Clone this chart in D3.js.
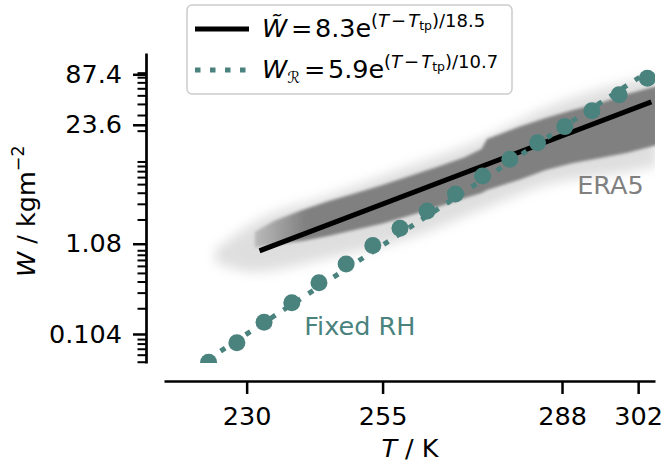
<!DOCTYPE html>
<html>
<head>
<meta charset="utf-8">
<script src="https://cdn.jsdelivr.net/npm/d3@7"></script>
<style>
body { margin: 0; background: #fff; }
text { font-family: "DejaVu Sans", sans-serif; }
</style>
</head>
<body>
<div id="chart"></div>
<script>
var width = 666, height = 464

var coreT = [231.5, 235, 240, 245, 250, 255, 260, 265, 270, 273.2, 274.2, 280, 285, 290, 295, 300, 305.5]
var coreHigh = [1.46, 1.95, 2.55, 3.25, 4.0, 4.95, 6.26, 7.90, 10.1, 12.6, 16.3, 22.3, 28.1, 34.6, 41.5, 52.4, 64.5]
var coreLow = [0.98, 1.05, 1.15, 1.32, 1.55, 1.82, 2.25, 2.78, 3.52, 4.03, 4.35, 5.64, 7.31, 8.76, 9.97, 11.4, 14.0]
var haloT = [224.2, 231.5, 245.3, 260, 273, 285, 300, 305.5]
var haloHigh = [0.92, 1.90, 3.82, 8.11, 15.9, 36.5, 71.6, 83.6]
var haloLow = [0.67, 0.52, 0.75, 1.25, 2.59, 4.95, 6.94, 8.11]

// exponential fit to ERA5 (end points)
var fitT = [232.8, 304.0]
var fitW = [0.92, 41.8]

// fixed relative humidity points and their exponential fit
var fixedT = [223.0, 228.2, 233.2, 238.3, 243.3, 248.3, 253.2, 258.2, 263.2, 268.4, 273.4, 278.4, 283.5, 288.5, 293.5, 298.5, 303.7]
var fixedW = [0.050, 0.083, 0.141, 0.234, 0.393, 0.639, 1.03, 1.61, 2.52, 3.92, 6.25, 9.64, 14.8, 22.5, 34.0, 51.5, 78.8]
var fixedFitT = [222.9, 303.7]
var fixedFitW = [0.054, 92.5]

var xTicks = [230, 255, 288, 302]
var yTicks = [0.104, 1.08, 23.6, 87.4]

var teal = "#4a827e", grey = "#808080", fs = 25.5

var svg = d3.select("#chart").append("svg")
  .attr("width", width)
  .attr("height", height)

var x = d3.scaleLinear().domain([214.8, 305.1]).range([164, 655])
var y = d3.scaleLog().domain([0.049, 151.8]).range([363, 53])

var defs = svg.append("defs")
defs.append("clipPath").attr("id", "plotClip")
  .append("rect").attr("x", 164).attr("y", 53).attr("width", 491).attr("height", 310)
defs.append("filter").attr("id", "blurCore")
  .attr("x", "-10%").attr("y", "-10%").attr("width", "120%").attr("height", "120%")
  .append("feGaussianBlur").attr("stdDeviation", 1.8)
defs.append("filter").attr("id", "blurHalo")
  .attr("x", "-20%").attr("y", "-20%").attr("width", "140%").attr("height", "140%")
  .append("feGaussianBlur").attr("stdDeviation", 6)
var grad = defs.append("linearGradient").attr("id", "coreFade")
  .attr("gradientUnits", "userSpaceOnUse")
  .attr("x1", x(231)).attr("x2", x(241)).attr("y1", 0).attr("y2", 0)
grad.append("stop").attr("offset", 0).attr("stop-color", grey).attr("stop-opacity", 0.35)
grad.append("stop").attr("offset", 1).attr("stop-color", grey).attr("stop-opacity", 1)

var plot = svg.append("g").attr("clip-path", "url(#plotClip)")

var band = d3.area()
  .x(function (d) { return x(d.t) })
  .y0(function (d) { return y(d.lo) })
  .y1(function (d) { return y(d.hi) })

var halo = haloT.map(function (t, i) { return { t: t, lo: haloLow[i], hi: haloHigh[i] } })
var core = coreT.map(function (t, i) { return { t: t, lo: coreLow[i], hi: coreHigh[i] } })

plot.append("path")
  .attr("d", band.curve(d3.curveMonotoneX)(halo))
  .attr("fill", grey)
  .attr("opacity", 0.25)
  .attr("filter", "url(#blurHalo)")

plot.append("path")
  .attr("d", band.curve(d3.curveLinear)(core))
  .attr("fill", "url(#coreFade)")
  .attr("filter", "url(#blurCore)")

var line = d3.line()
  .x(function (d) { return x(d[0]) })
  .y(function (d) { return y(d[1]) })

plot.append("path")
  .attr("d", line(d3.zip(fitT, fitW)))
  .attr("stroke", "black")
  .attr("stroke-width", 5)
  .attr("stroke-linecap", "square")
  .attr("fill", "none")

plot.append("path")
  .attr("d", line(d3.zip(fixedFitT, fixedFitW)))
  .attr("stroke", teal)
  .attr("stroke-width", 5)
  .attr("stroke-dasharray", "5.5 9.5")
  .attr("fill", "none")

plot.selectAll("circle")
  .data(d3.zip(fixedT, fixedW))
  .enter()
  .append("circle")
  .attr("cx", function (d) { return x(d[0]) })
  .attr("cy", function (d) { return y(d[1]) })
  .attr("r", 8.5)
  .attr("fill", teal)

// annotations
svg.append("text").text("ERA5")
  .attr("x", x(290.8)).attr("y", y(3.92))
  .attr("fill", grey).style("font-size", fs + "px")
svg.append("text").text("Fixed RH")
  .attr("x", x(240.6)).attr("y", y(0.101))
  .attr("fill", teal).style("font-size", fs + "px")

// axes (spines pushed outward)
var xAxis = svg.append("g")
  .attr("transform", "translate(0,381)")
  .call(d3.axisBottom(x).tickValues(xTicks).tickFormat(function (d) { return d })
    .tickSize(13).tickSizeOuter(0).tickPadding(13))
var yAxis = svg.append("g")
  .attr("transform", "translate(146,0)")
  .call(d3.axisLeft(y).tickValues(yTicks).tickFormat(function (d) { return d })
    .tickSize(13).tickSizeOuter(0).tickPadding(11))

var minor = y.ticks().filter(function (v) {
  var m = v / Math.pow(10, Math.floor(Math.log10(v) + 1e-9))
  return Math.round(m) !== 1
})
yAxis.selectAll(".minor")
  .data(minor)
  .enter()
  .append("line")
  .attr("class", "minor")
  .attr("x1", -8.5).attr("x2", 0)
  .attr("y1", function (d) { return y(d) })
  .attr("y2", function (d) { return y(d) })
  .attr("stroke", "black")
  .attr("stroke-width", 2)

svg.selectAll(".domain").attr("stroke-width", 2.7)
svg.selectAll(".tick line").attr("stroke-width", 2.5)
svg.selectAll(".tick text")
  .style("font-size", fs + "px")
  .style("font-family", "DejaVu Sans")

// axis titles
var xl = svg.append("text")
  .attr("x", 410).attr("y", 457)
  .attr("text-anchor", "middle")
  .style("font-size", fs + "px")
xl.append("tspan").text("T").style("font-style", "italic")
xl.append("tspan").text(" / K")

var yl = svg.append("text")
  .attr("transform", "translate(35,277) rotate(-90)")
  .style("font-size", fs + "px")
yl.append("tspan").text("W").style("font-style", "italic")
yl.append("tspan").text(" / kgm")
yl.append("tspan").text("\u22122").attr("dy", -11).style("font-size", "17.5px")

// legend
var legend = svg.append("g")
legend.append("rect")
  .attr("x", 187).attr("y", 5).attr("width", 325).attr("height", 89)
  .attr("rx", 5)
  .attr("fill", "white").attr("fill-opacity", 0.8)
  .attr("stroke", "#cccccc").attr("stroke-width", 1.5)

legend.append("line")
  .attr("x1", 195).attr("x2", 249).attr("y1", 29).attr("y2", 29)
  .attr("stroke", "black").attr("stroke-width", 5)
legend.append("line")
  .attr("x1", 195).attr("x2", 249).attr("y1", 70).attr("y2", 70)
  .attr("stroke", teal).attr("stroke-width", 5)
  .attr("stroke-dasharray", "5.5 9.5")

function legendLabel(yBase, sym, sub, coef, scale, shift) {
  var t = legend.append("text").attr("y", yBase).style("font-size", fs + "px")
  t.append("tspan").attr("x", 262).text(sym).style("font-style", "italic")
  if (sub) t.append("tspan").text(sub).attr("dy", 5).style("font-size", "16px")
  t.append("tspan").attr("x", 291 + shift).attr("y", yBase).text("=")
  t.append("tspan").attr("x", 315 + shift).text(coef + "e")
  t.append("tspan").attr("x", 371 + shift).attr("dy", -10.5).style("font-size", "18px").text("(")
  t.append("tspan").style("font-size", "18px").style("font-style", "italic").text("T")
  t.append("tspan").style("font-size", "18px").attr("dx", 2).text("\u2212")
  t.append("tspan").style("font-size", "18px").attr("dx", 2).style("font-style", "italic").text("T")
  t.append("tspan").style("font-size", "12.5px").attr("dy", 3).text("tp")
  t.append("tspan").style("font-size", "18px").attr("dy", -3).text(")/" + scale)
}
legendLabel(37, "W\u0303", null, "8.3", "18.5", 0)
legendLabel(78, "W", "\u211B", "5.9", "10.7", 13)
</script>
</body>
</html>
